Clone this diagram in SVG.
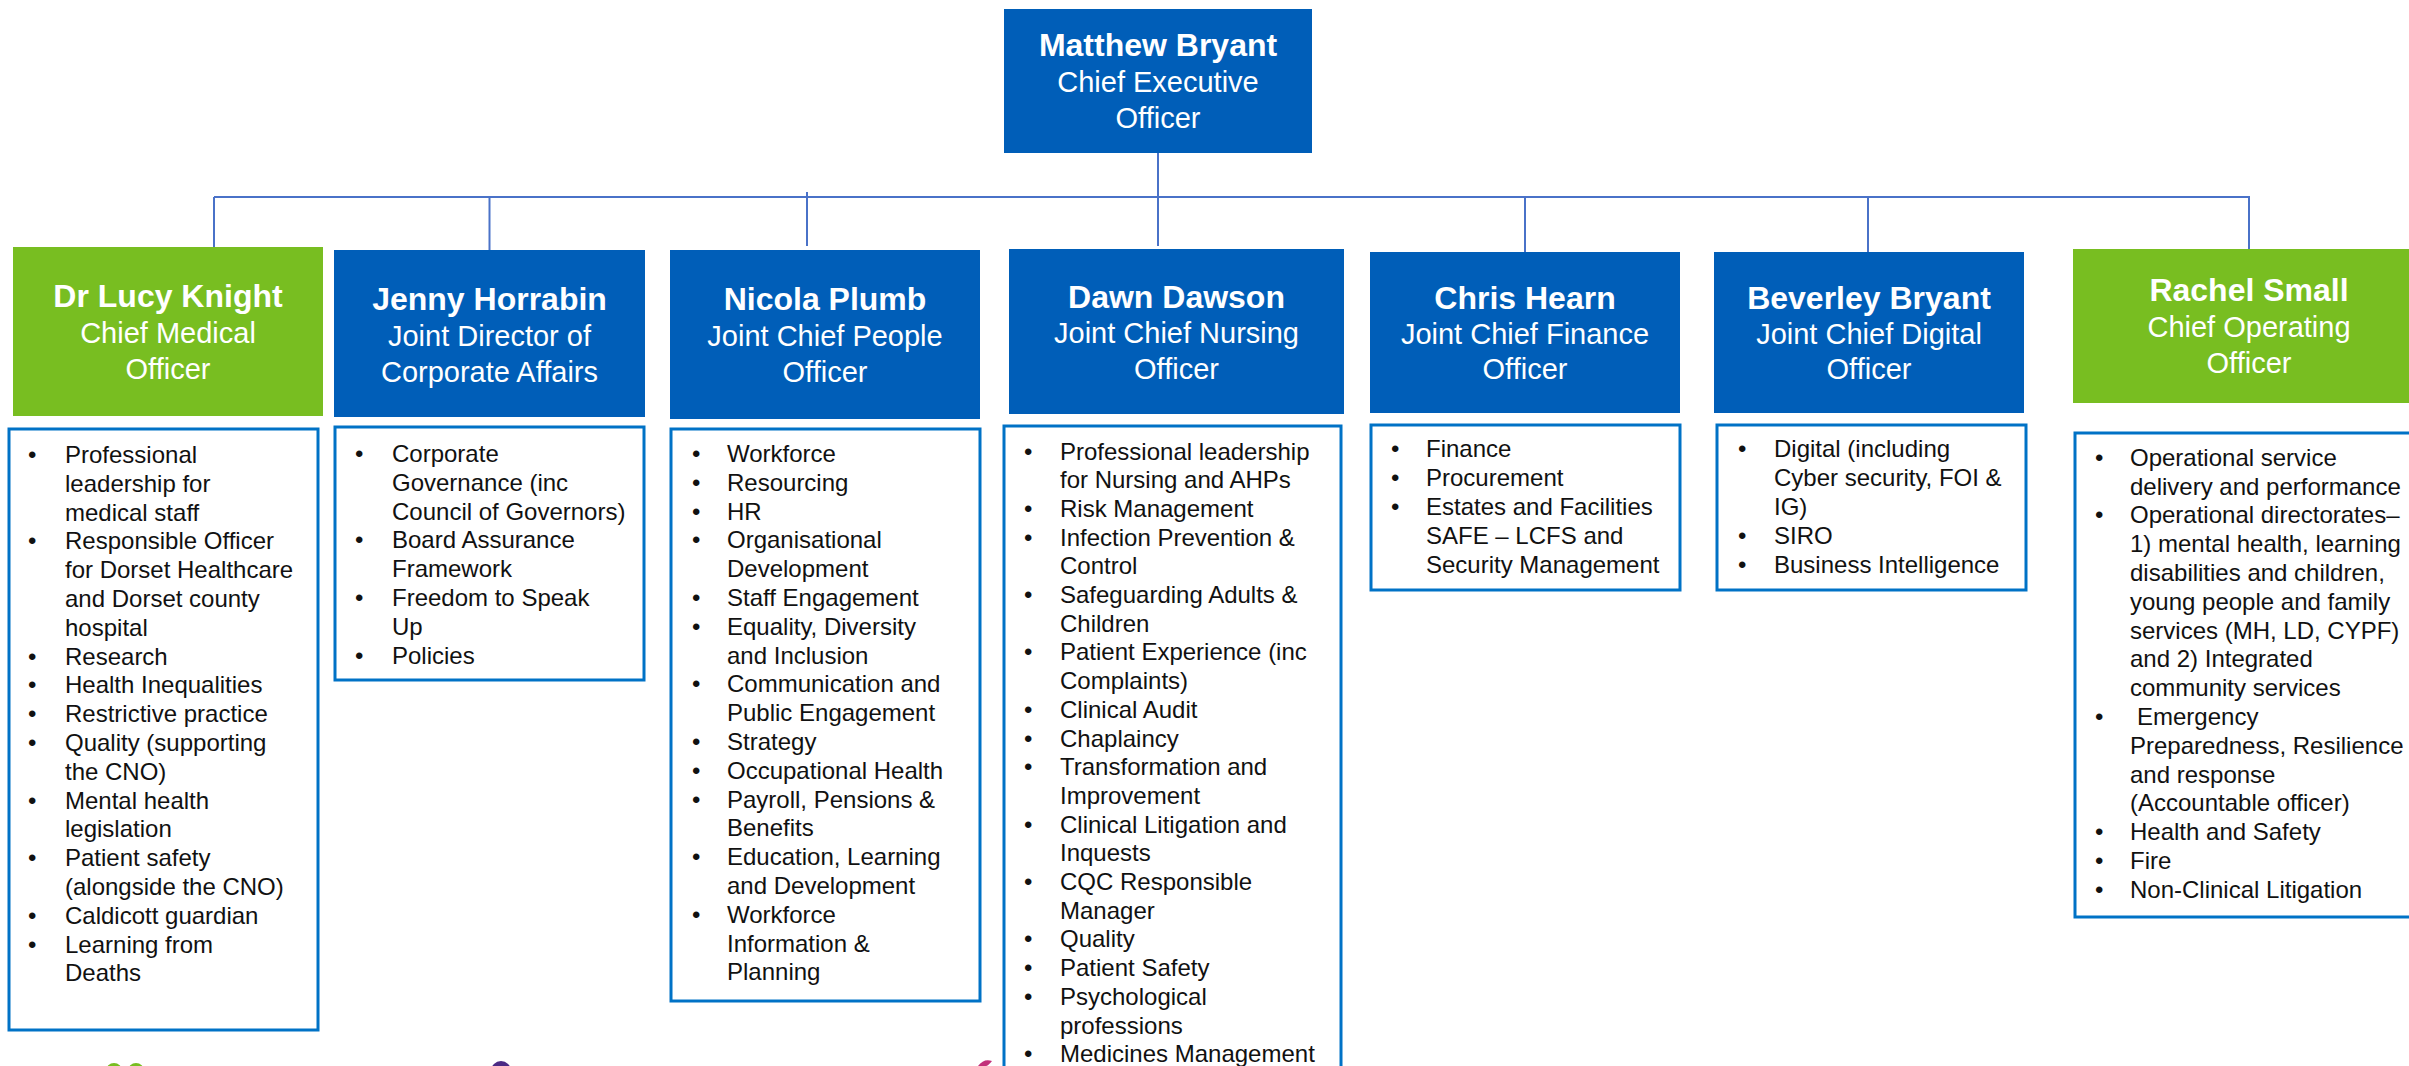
<svg xmlns="http://www.w3.org/2000/svg" width="2409" height="1066" viewBox="0 0 2409 1066">
<style>
.hb{fill:#005EB8}
.hg{fill:#78BE21}
.name{font-family:"Liberation Sans",Arial,sans-serif;font-weight:bold;font-size:32px;fill:#fff;text-anchor:middle}
.role{font-family:"Liberation Sans",Arial,sans-serif;font-size:29px;fill:#fff;text-anchor:middle}
.lb{fill:#fff;stroke:#0072C6;stroke-width:3}
.it{font-family:"Liberation Sans",Arial,sans-serif;font-size:24px;fill:#111}
.con{stroke:#4A72C8;stroke-width:2;fill:none}
</style>
<rect width="2409" height="1066" fill="#fff"/>
<g id="connectors">
<path class="con" d="M214 197H2249"/>
<path class="con" d="M1158 153V246"/>
<path class="con" d="M214 197V247"/>
<path class="con" d="M489.5 197V250"/>
<path class="con" d="M807 192V246"/>
<path class="con" d="M1525 197V252"/>
<path class="con" d="M1868 197V252"/>
<path class="con" d="M2249 196V249"/>
</g>
<g id="ceo">
<rect class="hb" x="1004" y="9" width="308" height="144"/>
<text class="name" x="1158" y="56">Matthew Bryant</text>
<text class="role" x="1158" y="92">Chief Executive</text>
<text class="role" x="1158" y="128">Officer</text>
</g>
<g id="cmo">
<rect class="hg" x="13" y="247" width="310" height="169"/>
<text class="name" x="168" y="307">Dr Lucy Knight</text>
<text class="role" x="168" y="343">Chief Medical</text>
<text class="role" x="168" y="379">Officer</text>
<rect class="lb" x="9" y="429" width="309" height="601"/>
<text class="it" x="28"><tspan x="28" y="463">•</tspan><tspan x="28" y="549.4">•</tspan><tspan x="28" y="664.6">•</tspan><tspan x="28" y="693.4">•</tspan><tspan x="28" y="722.2">•</tspan><tspan x="28" y="751">•</tspan><tspan x="28" y="808.6">•</tspan><tspan x="28" y="866.2">•</tspan><tspan x="28" y="923.8">•</tspan><tspan x="28" y="952.6">•</tspan></text>
<text class="it"><tspan x="65" y="463">Professional</tspan><tspan x="65" y="491.8">leadership for</tspan><tspan x="65" y="520.6">medical staff</tspan><tspan x="65" y="549.4">Responsible Officer</tspan><tspan x="65" y="578.2">for Dorset Healthcare</tspan><tspan x="65" y="607">and Dorset county</tspan><tspan x="65" y="635.8">hospital</tspan><tspan x="65" y="664.6">Research</tspan><tspan x="65" y="693.4">Health Inequalities</tspan><tspan x="65" y="722.2">Restrictive practice</tspan><tspan x="65" y="751">Quality (supporting</tspan><tspan x="65" y="779.8">the CNO)</tspan><tspan x="65" y="808.6">Mental health</tspan><tspan x="65" y="837.4">legislation</tspan><tspan x="65" y="866.2">Patient safety</tspan><tspan x="65" y="895">(alongside the CNO)</tspan><tspan x="65" y="923.8">Caldicott guardian</tspan><tspan x="65" y="952.6">Learning from</tspan><tspan x="65" y="981.4">Deaths</tspan></text>
</g>
<g id="corporate-affairs">
<rect class="hb" x="334" y="250" width="311" height="167"/>
<text class="name" x="489.5" y="310">Jenny Horrabin</text>
<text class="role" x="489.5" y="346">Joint Director of</text>
<text class="role" x="489.5" y="382">Corporate Affairs</text>
<rect class="lb" x="335" y="427" width="309" height="253"/>
<text class="it"><tspan x="355" y="462">•</tspan><tspan x="355" y="548.4">•</tspan><tspan x="355" y="606">•</tspan><tspan x="355" y="663.6">•</tspan></text>
<text class="it"><tspan x="392" y="462">Corporate</tspan><tspan x="392" y="490.8">Governance (inc</tspan><tspan x="392" y="519.6">Council of Governors)</tspan><tspan x="392" y="548.4">Board Assurance</tspan><tspan x="392" y="577.2">Framework</tspan><tspan x="392" y="606">Freedom to Speak</tspan><tspan x="392" y="634.8">Up</tspan><tspan x="392" y="663.6">Policies</tspan></text>
</g>
<g id="people">
<rect class="hb" x="670" y="250" width="310" height="169"/>
<text class="name" x="825" y="310">Nicola Plumb</text>
<text class="role" x="825" y="346">Joint Chief People</text>
<text class="role" x="825" y="382">Officer</text>
<rect class="lb" x="671" y="429" width="309" height="572"/>
<text class="it"><tspan x="692" y="462">•</tspan><tspan x="692" y="490.8">•</tspan><tspan x="692" y="519.6">•</tspan><tspan x="692" y="548.4">•</tspan><tspan x="692" y="606">•</tspan><tspan x="692" y="634.8">•</tspan><tspan x="692" y="692.4">•</tspan><tspan x="692" y="750">•</tspan><tspan x="692" y="778.8">•</tspan><tspan x="692" y="807.6">•</tspan><tspan x="692" y="865.2">•</tspan><tspan x="692" y="922.8">•</tspan></text>
<text class="it"><tspan x="727" y="462">Workforce</tspan><tspan x="727" y="490.8">Resourcing</tspan><tspan x="727" y="519.6">HR</tspan><tspan x="727" y="548.4">Organisational</tspan><tspan x="727" y="577.2">Development</tspan><tspan x="727" y="606">Staff Engagement</tspan><tspan x="727" y="634.8">Equality, Diversity</tspan><tspan x="727" y="663.6">and Inclusion</tspan><tspan x="727" y="692.4">Communication and</tspan><tspan x="727" y="721.2">Public Engagement</tspan><tspan x="727" y="750">Strategy</tspan><tspan x="727" y="778.8">Occupational Health</tspan><tspan x="727" y="807.6">Payroll, Pensions &amp;</tspan><tspan x="727" y="836.4">Benefits</tspan><tspan x="727" y="865.2">Education, Learning</tspan><tspan x="727" y="894">and Development</tspan><tspan x="727" y="922.8">Workforce</tspan><tspan x="727" y="951.6">Information &amp;</tspan><tspan x="727" y="980.4">Planning</tspan></text>
</g>
<g id="nursing">
<rect class="hb" x="1009" y="249" width="335" height="165"/>
<text class="name" x="1176.5" y="308">Dawn Dawson</text>
<text class="role" x="1176.5" y="343">Joint Chief Nursing</text>
<text class="role" x="1176.5" y="379">Officer</text>
<rect class="lb" x="1004" y="426" width="337" height="660"/>
<text class="it"><tspan x="1024" y="459.5">•</tspan><tspan x="1024" y="516.9">•</tspan><tspan x="1024" y="545.6">•</tspan><tspan x="1024" y="603">•</tspan><tspan x="1024" y="660.4">•</tspan><tspan x="1024" y="717.8">•</tspan><tspan x="1024" y="746.5">•</tspan><tspan x="1024" y="775.2">•</tspan><tspan x="1024" y="832.6">•</tspan><tspan x="1024" y="890">•</tspan><tspan x="1024" y="947.4">•</tspan><tspan x="1024" y="976.1">•</tspan><tspan x="1024" y="1004.8">•</tspan><tspan x="1024" y="1062.2">•</tspan></text>
<text class="it"><tspan x="1060" y="459.5">Professional leadership</tspan><tspan x="1060" y="488.2">for Nursing and AHPs</tspan><tspan x="1060" y="516.9">Risk Management</tspan><tspan x="1060" y="545.6">Infection Prevention &amp;</tspan><tspan x="1060" y="574.3">Control</tspan><tspan x="1060" y="603">Safeguarding Adults &amp;</tspan><tspan x="1060" y="631.7">Children</tspan><tspan x="1060" y="660.4">Patient Experience (inc</tspan><tspan x="1060" y="689.1">Complaints)</tspan><tspan x="1060" y="717.8">Clinical Audit</tspan><tspan x="1060" y="746.5">Chaplaincy</tspan><tspan x="1060" y="775.2">Transformation and</tspan><tspan x="1060" y="803.9">Improvement</tspan><tspan x="1060" y="832.6">Clinical Litigation and</tspan><tspan x="1060" y="861.3">Inquests</tspan><tspan x="1060" y="890">CQC Responsible</tspan><tspan x="1060" y="918.7">Manager</tspan><tspan x="1060" y="947.4">Quality</tspan><tspan x="1060" y="976.1">Patient Safety</tspan><tspan x="1060" y="1004.8">Psychological</tspan><tspan x="1060" y="1033.5">professions</tspan><tspan x="1060" y="1062.2">Medicines Management</tspan></text>
</g>
<g id="finance">
<rect class="hb" x="1370" y="252" width="310" height="161"/>
<text class="name" x="1525" y="309">Chris Hearn</text>
<text class="role" x="1525" y="344">Joint Chief Finance</text>
<text class="role" x="1525" y="379">Officer</text>
<rect class="lb" x="1371" y="425" width="309" height="165"/>
<text class="it"><tspan x="1391" y="457.4">•</tspan><tspan x="1391" y="486.2">•</tspan><tspan x="1391" y="515">•</tspan></text>
<text class="it"><tspan x="1426" y="457.4">Finance</tspan><tspan x="1426" y="486.2">Procurement</tspan><tspan x="1426" y="515">Estates and Facilities</tspan><tspan x="1426" y="543.8">SAFE – LCFS and</tspan><tspan x="1426" y="572.6">Security Management</tspan></text>
</g>
<g id="digital">
<rect class="hb" x="1714" y="252" width="310" height="161"/>
<text class="name" x="1869" y="309">Beverley Bryant</text>
<text class="role" x="1869" y="344">Joint Chief Digital</text>
<text class="role" x="1869" y="379">Officer</text>
<rect class="lb" x="1717" y="425" width="309" height="165"/>
<text class="it"><tspan x="1738" y="457.4">•</tspan><tspan x="1738" y="543.8">•</tspan><tspan x="1738" y="572.6">•</tspan></text>
<text class="it"><tspan x="1774" y="457.4">Digital (including</tspan><tspan x="1774" y="486.2">Cyber security, FOI &amp;</tspan><tspan x="1774" y="515">IG)</tspan><tspan x="1774" y="543.8">SIRO</tspan><tspan x="1774" y="572.6">Business Intelligence</tspan></text>
</g>
<g id="coo">
<rect class="hg" x="2073" y="249" width="352" height="154"/>
<text class="name" x="2249" y="301">Rachel Small</text>
<text class="role" x="2249" y="337">Chief Operating</text>
<text class="role" x="2249" y="373">Officer</text>
<rect class="lb" x="2075" y="433" width="350" height="484"/>
<text class="it"><tspan x="2095" y="465.8">•</tspan><tspan x="2095" y="523.4">•</tspan><tspan x="2095" y="725">•</tspan><tspan x="2095" y="840.2">•</tspan><tspan x="2095" y="869">•</tspan><tspan x="2095" y="897.8">•</tspan></text>
<text class="it"><tspan x="2130" y="465.8">Operational service</tspan><tspan x="2130" y="494.6">delivery and performance</tspan><tspan x="2130" y="523.4">Operational directorates–</tspan><tspan x="2130" y="552.2">1) mental health, learning</tspan><tspan x="2130" y="581">disabilities and children,</tspan><tspan x="2130" y="609.8">young people and family</tspan><tspan x="2130" y="638.6">services (MH, LD, CYPF)</tspan><tspan x="2130" y="667.4">and 2) Integrated</tspan><tspan x="2130" y="696.2">community services</tspan><tspan x="2137" y="725">Emergency</tspan><tspan x="2130" y="753.8">Preparedness, Resilience</tspan><tspan x="2130" y="782.6">and response</tspan><tspan x="2130" y="811.4">(Accountable officer)</tspan><tspan x="2130" y="840.2">Health and Safety</tspan><tspan x="2130" y="869">Fire</tspan><tspan x="2130" y="897.8">Non-Clinical Litigation</tspan></text>
</g>
<g id="logos">
<circle cx="114" cy="1071" r="8" fill="#78BE21"/>
<circle cx="136" cy="1071" r="8" fill="#78BE21"/>
<circle cx="501" cy="1071" r="10" fill="#4B2A84"/>
<path d="M978 1066 Q984 1058 992 1061 Q988 1066 986 1066 Z" fill="#C2307A"/>
</g>
</svg>
